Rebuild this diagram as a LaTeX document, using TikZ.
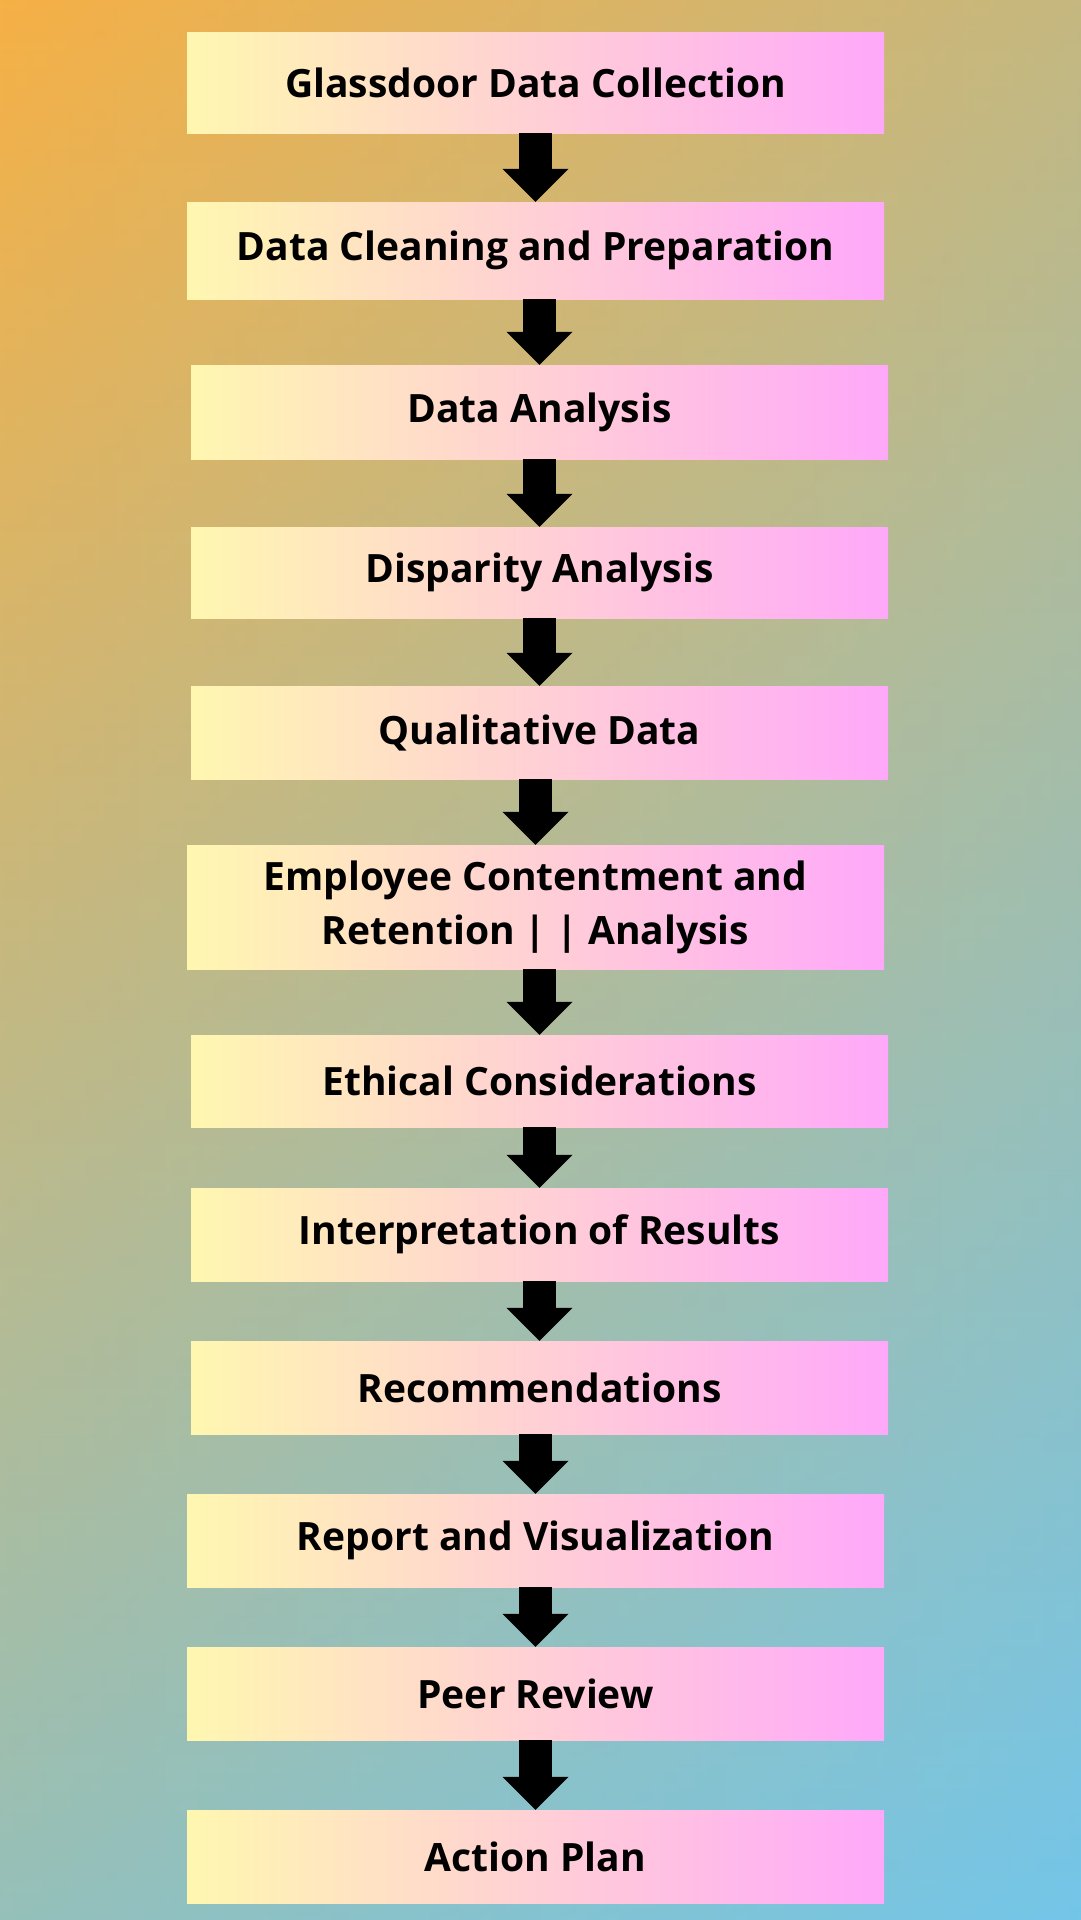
\documentclass[tikz,border=0pt]{standalone}
\usepackage{fontspec}
\setmainfont{Open Sans}
\usetikzlibrary{arrows.meta,fadings}

\definecolor{bgtopleft}{RGB}{248,176,67}
\definecolor{bgtopright}{RGB}{197,184,128}
\definecolor{bgbottomleft}{RGB}{149,192,186}
\definecolor{bgbottomright}{RGB}{114,198,235}
\definecolor{boxyellow}{RGB}{255,247,176}
\definecolor{boxpink}{RGB}{255,168,250}

\tikzset{
  stage/.style={left color=boxyellow, right color=boxpink, minimum width=697pt, inner sep=0pt, align=center, font=\fontsize{39}{54}\selectfont\bfseries},
  flow/.style={line width=33pt, -{Triangle[length=33pt, width=66pt, line width=0pt]}},
}

\begin{document}
\begin{tikzpicture}[x=1pt, y=-1pt]

\useasboundingbox (0,0) rectangle (1080,1920);
% background: left edge colours, then right edge colours faded in
\shade [top color=bgtopleft, bottom color=bgbottomleft] (-20,-20) rectangle (1100,1940);
\shade [top color=bgtopright, bottom color=bgbottomright, path fading=west] (-20,-20) rectangle (1100,1940);

% Stages
\node [stage, minimum height=101pt] (collect)   at (535.5, 82.5)  {Glassdoor Data Collection};
\node [stage, minimum height=97pt]  (clean)     at (535.5, 250.5) {Data Cleaning and Preparation};
\node [stage, minimum height=94pt]  (analysis)  at (539.5, 412)   {Data Analysis};
\node [stage, minimum height=91pt]  (disparity) at (539.5, 572.5) {Disparity Analysis};
\node [stage, minimum height=93pt]  (quali)     at (539.5, 732.5) {Qualitative Data};
\node [stage, minimum height=124pt] (retain)    at (535.5, 907)   {Employee Contentment and\\Retention | | Analysis};
\node [stage, minimum height=92pt]  (ethics)    at (539.5, 1081)  {Ethical Considerations};
\node [stage, minimum height=93pt]  (interp)    at (539.5, 1234.5){Interpretation of Results};
\node [stage, minimum height=93pt]  (recom)     at (539.5, 1387.5){Recommendations};
\node [stage, minimum height=93pt]  (report)    at (535.5, 1540.5){Report and Visualization};
\node [stage, minimum height=93pt]  (review)    at (535.5, 1693.5){Peer Review};
\node [stage, minimum height=93pt]  (plan)      at (535.5, 1856.5){Action Plan};

% Arrows
\draw [flow] (collect.south)   -- (clean.north);
\draw [flow] (analysis.north |- clean.south)    -- (analysis.north);
\draw [flow] (analysis.south)  -- (disparity.north);
\draw [flow] (disparity.south) -- (quali.north);
\draw [flow] (retain.north |- quali.south)      -- (retain.north);
\draw [flow] (ethics.north |- retain.south)     -- (ethics.north);
\draw [flow] (ethics.south)    -- (interp.north);
\draw [flow] (interp.south)    -- (recom.north);
\draw [flow] (report.north |- recom.south)      -- (report.north);
\draw [flow] (report.south)    -- (review.north);
\draw [flow] (review.south)    -- (plan.north);

\end{tikzpicture}
\end{document}
